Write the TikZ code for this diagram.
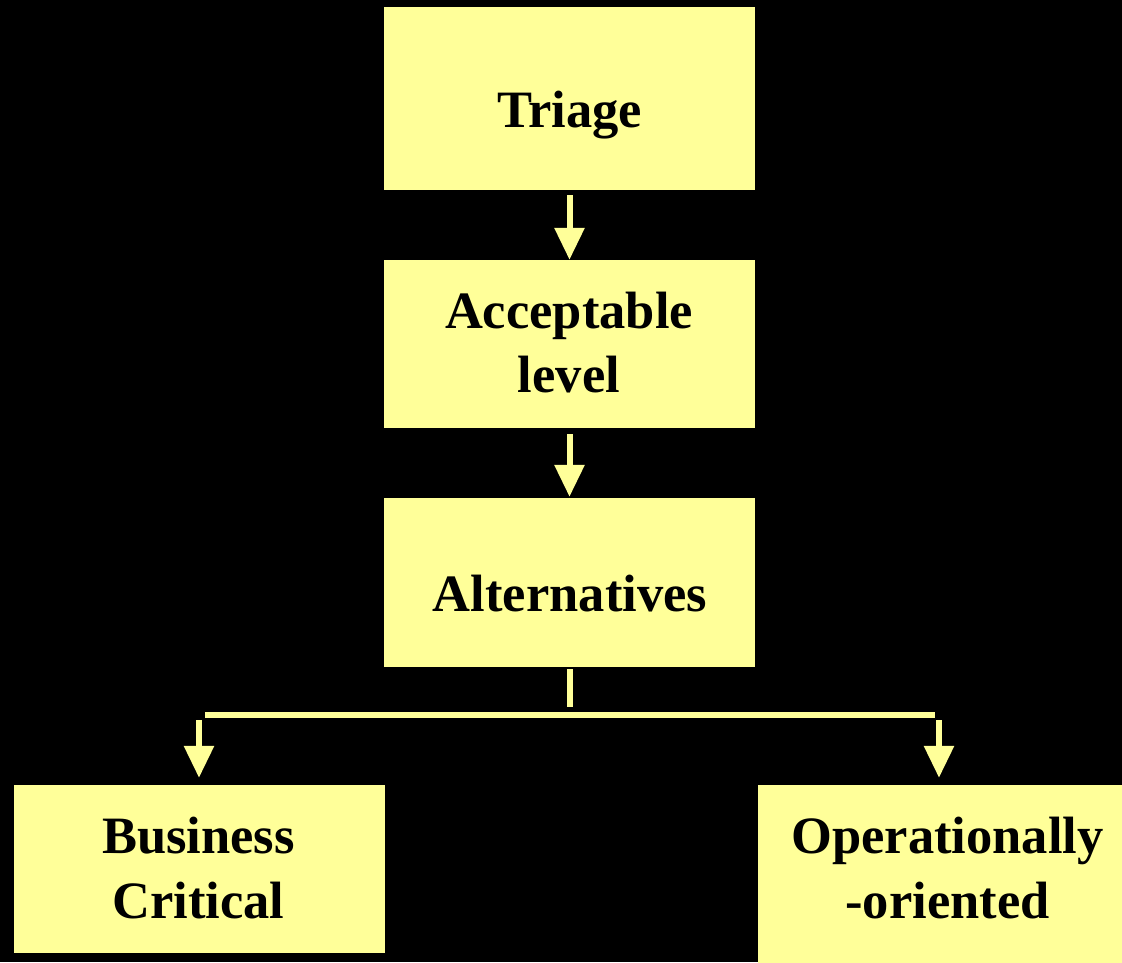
\documentclass[tikz,border=0pt]{standalone}
\usepackage{fontspec}
\setmainfont{Liberation Serif}
\usetikzlibrary{arrows.meta}
\definecolor{boxyellow}{HTML}{FFFF99}
\tikzset{
  box/.style={draw=none, fill=boxyellow, rectangle, inner sep=0pt},
  lbl/.style={inner sep=0pt, anchor=base, text=black, font=\bfseries\fontsize{52.5}{64}\selectfont},
  conn/.style={draw=boxyellow, line width=6pt},
  arr/.style={draw=boxyellow, line width=6pt, -{Triangle[length=32pt,width=29pt]}},
}
\begin{document}
\begin{tikzpicture}[x=1pt,y=-1pt]
  \fill[black] (0,0) rectangle (1122,962);
  \useasboundingbox (0,0) rectangle (1122,962);
  \clip (0,0) rectangle (1122,962);
  % boxes
  \node[box, minimum width=371pt, minimum height=183pt] (triage) at (569.5,98.5) {};
  \node[box, minimum width=371pt, minimum height=168pt] (accept) at (569.5,344) {};
  \node[box, minimum width=371pt, minimum height=169pt] (alt) at (569.5,582.5) {};
  \node[box, minimum width=371pt, minimum height=168pt] (bc) at (199.5,869) {};
  \node[box, minimum width=379pt, minimum height=190pt] (op) at (947.5,880) {};
  % labels
  \node[lbl] (t1) at (569.5,127) {Triage};
  \node[lbl] (t2a) at (569,328) {Acceptable};
  \node[lbl] (t2b) at (569,392) {level};
  \node[lbl] (t3) at (570,611) {Alternatives};
  \node[lbl] (t4a) at (198.5,853) {Business};
  \node[lbl] (t4b) at (198.5,918) {Critical};
  \node[lbl] (t5a) at (947.5,853) {Operationally};
  \node[lbl] (t5b) at (947.5,918) {-oriented};
  % connectors
  \draw[arr, shorten <=5pt, shorten >=0pt] (triage.south) -- (accept.north);
  \draw[arr, shorten <=6pt, shorten >=1pt] (accept.south) -- (alt.north);
  \coordinate (j) at (569.5,707);
  \coordinate (hl) at (205,715);
  \coordinate (hr) at (935,715);
  \coordinate (al) at (199,720);
  \coordinate (ar) at (939,720);
  \draw[conn, shorten <=2pt] (alt.south) -- (j);
  \draw[conn] (hl) -- (hr);
  \draw[arr, shorten >=7pt] (al) -- (al |- bc.north);
  \draw[arr, shorten >=7pt] (ar) -- (ar |- op.north);
\end{tikzpicture}
\end{document}
